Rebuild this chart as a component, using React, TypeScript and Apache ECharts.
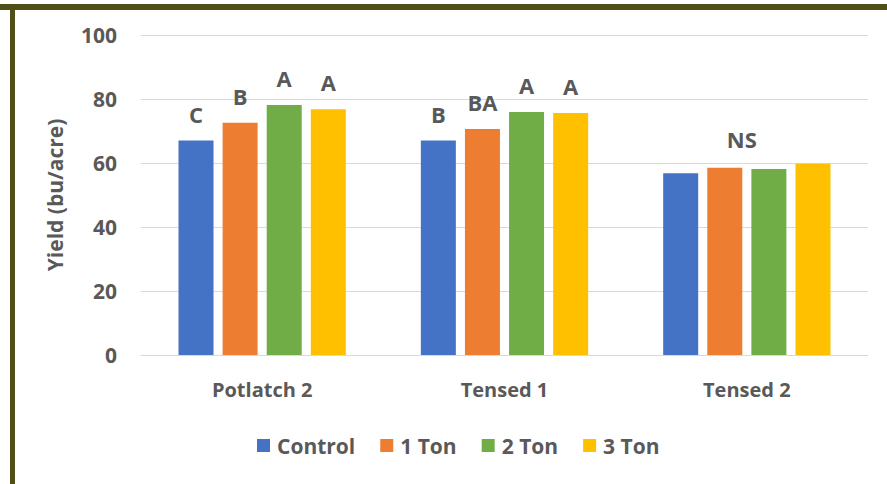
import React, { useEffect, useRef } from "react";
import * as echarts from "echarts";

const categories = ["Potlatch 2", "Tensed 1", "Tensed 2"];
const seriesNames = ["Control", "1 Ton", "2 Ton", "3 Ton"];
const controlValues = [67, 67, 56.8];
const oneTonValues = [72.6, 70.6, 58.5];
const twoTonValues = [78.1, 75.9, 58.1];
const threeTonValues = [76.8, 75.6, 59.8];
const controlLetters = ["C", "B", ""];
const oneTonLetters = ["B", "BA", ""];
const twoTonLetters = ["A", "A", ""];
const threeTonLetters = ["A", "A", ""];
const nsLabel = "NS";
const yTicks = [0, 20, 40, 60, 80, 100];
const colors = ["#4472C4", "#ED7D31", "#70AD47", "#FFC000"];

const FONT = "'Open Sans', 'Noto Sans', sans-serif";
const TEXT = "#595959";

export default function App() {
  const ref = useRef<HTMLDivElement>(null);
  useEffect(() => {
    if (!ref.current) return;
    const chart = echarts.init(ref.current, null, { renderer: "svg" });
    const values = [controlValues, oneTonValues, twoTonValues, threeTonValues];
    const letters = [controlLetters, oneTonLetters, twoTonLetters, threeTonLetters];
    const labelStyle = {
      show: true,
      position: "top",
      distance: 16,
      fontFamily: FONT,
      fontWeight: "bold",
      fontSize: 22,
      color: TEXT,
    };
    const series = seriesNames.map((name, i) => ({
      name,
      type: "bar",
      barWidth: 35,
      barGap: "26%",
      itemStyle: { color: colors[i] },
      data: values[i].map((v, j) => {
        const d: any = { value: v };
        if (i === 1 && j === 2) {
          d.label = { ...labelStyle, formatter: nsLabel, offset: [17, -2] };
        } else {
          d.label = { ...labelStyle, formatter: letters[i][j] };
        }
        return d;
      }),
    }));
    chart.setOption({
      animation: false,
      backgroundColor: "#ffffff",
      textStyle: { fontFamily: FONT },
      graphic: [
        { type: "rect", shape: { x: 0, y: 4, width: 887, height: 6 }, style: { fill: "#4f4f18" }, z: 100 },
        { type: "rect", shape: { x: 10, y: 4, width: 5, height: 480 }, style: { fill: "#4f4f18" }, z: 100 },
      ],
      grid: { left: 141, right: 19, top: 35, bottom: 129 },
      legend: {
        data: seriesNames,
        bottom: 23,
        left: 252,
        itemWidth: 13,
        itemHeight: 13,
        itemGap: 25,
        icon: "rect",
        textStyle: {
          fontFamily: FONT,
          fontSize: 21,
          color: TEXT,
          fontWeight: "bold",
          padding: [0, 0, 0, 2],
        },
      },
      xAxis: {
        type: "category",
        data: categories,
        axisTick: { show: false },
        axisLine: { lineStyle: { color: "#d9d9d9", width: 1 } },
        axisLabel: { fontFamily: FONT, fontSize: 20, fontWeight: "bold", color: TEXT, margin: 24 },
      },
      yAxis: {
        type: "value",
        min: yTicks[0],
        max: yTicks[yTicks.length - 1],
        interval: 20,
        name: "Yield (bu/acre)",
        nameLocation: "middle",
        nameRotate: 90,
        nameGap: 76,
        nameTextStyle: { fontFamily: FONT, fontSize: 21, fontWeight: "bold", color: TEXT },
        axisLine: { show: false },
        axisTick: { show: false },
        splitLine: { lineStyle: { color: "#d9d9d9", width: 1 } },
        axisLabel: { fontFamily: FONT, fontSize: 21, fontWeight: "bold", color: TEXT, margin: 24 },
      },
      series,
    });
    return () => chart.dispose();
  }, []);
  return (
    <div
      ref={ref}
      style={{ position: "fixed", left: 0, top: 0, width: 887, height: 484 }}
    />
  );
}
